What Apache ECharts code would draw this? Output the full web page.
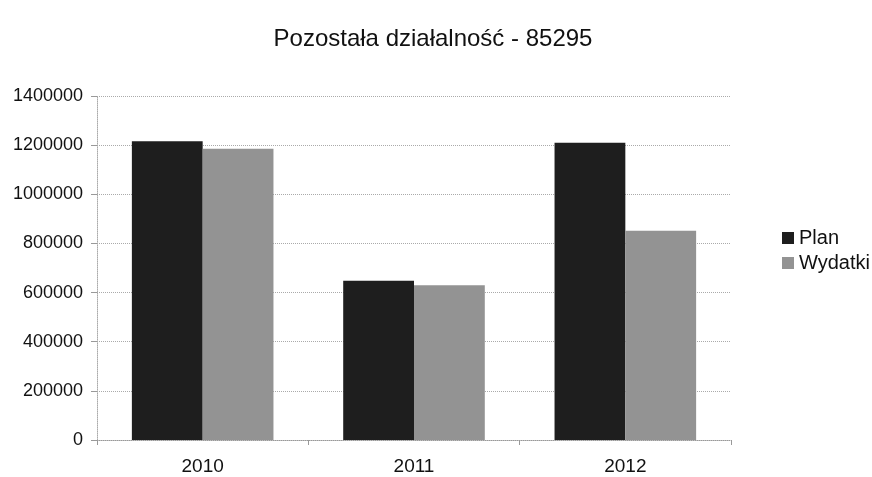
<!DOCTYPE html>
<html>
<head>
<meta charset="utf-8">
<script src="https://cdn.jsdelivr.net/npm/echarts@6/dist/echarts.min.js"></script>
<style>html,body{margin:0;padding:0;background:#fff}#c{width:872px;height:477px}</style>
</head>
<body>
<div id="c"></div>
<script>
const categories = ['2010', '2011', '2012'];
const planValues = [1216000, 648000, 1210000];
const wydatkiValues = [1185000, 630000, 852000];
const yTicks = [0, 200000, 400000, 600000, 800000, 1000000, 1200000, 1400000];

const chart = echarts.init(document.getElementById('c'));
const font = 'Liberation Sans, Arial, sans-serif';
chart.setOption({
  animation: false,
  backgroundColor: '#fff',
  title: {
    text: 'Pozostała działalność - 85295',
    left: 428, top: 22, textAlign: 'center',
    textStyle: { fontFamily: font, fontWeight: 'normal', fontSize: 24, color: '#111' }
  },
  legend: {
    orient: 'vertical', left: 777, top: 223, itemGap: 5,
    itemWidth: 12, itemHeight: 12, icon: 'rect',
    textStyle: { fontFamily: font, fontSize: 20, color: '#111' },
    data: ['Plan', 'Wydatki']
  },
  grid: { left: 97, right: 141, top: 96, bottom: 37 },
  xAxis: {
    type: 'category', data: categories,
    axisLine: { lineStyle: { color: '#999', type: 'dotted' } },
    axisTick: { show: true, length: 5, lineStyle: { color: '#999' } },
    axisLabel: { fontFamily: font, fontSize: 19, color: '#111', margin: 17 }
  },
  yAxis: {
    type: 'value', min: 0, max: 1400000, interval: 200000,
    axisLine: { show: true, lineStyle: { color: '#aaa', type: 'dotted' } },
    axisTick: { show: true, length: 6, lineStyle: { color: '#999' } },
    splitLine: { lineStyle: { color: '#aaa', type: 'dotted' } },
    axisLabel: { fontFamily: font, fontSize: 18, color: '#111', margin: 14,
      formatter: v => yTicks.includes(v) ? String(v) : '' }
  },
  series: [
    { name: 'Plan', type: 'bar', data: planValues, barGap: '0%', barCategoryGap: '33%',
      itemStyle: { color: '#1e1e1e' } },
    { name: 'Wydatki', type: 'bar', data: wydatkiValues,
      itemStyle: { color: '#939393' } }
  ]
});
</script>
</body>
</html>
